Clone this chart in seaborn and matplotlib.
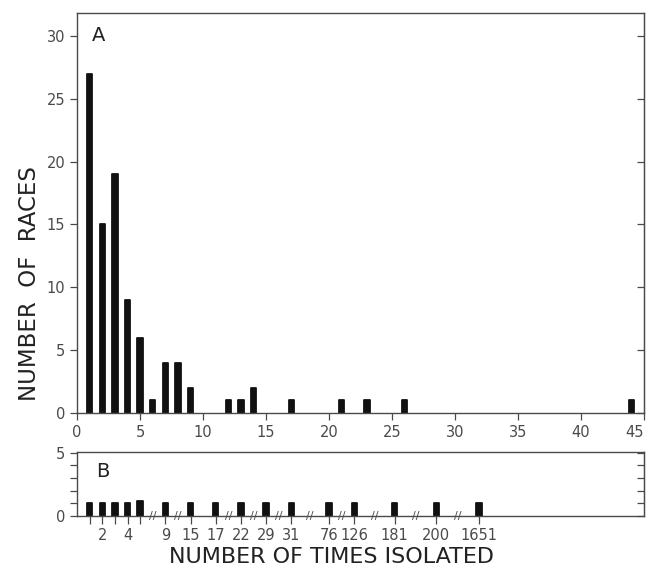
import numpy as np
import pandas as pd
import matplotlib.pyplot as plt
import seaborn as sns

sns.set_style("white")
plt.rcParams['font.family'] = ['DejaVu Sans']

# panel A: number of races isolated n times (n <= 45)
a_times = [1, 2, 3, 4, 5, 6, 7, 8, 9, 12, 13, 14, 17, 21, 23, 26, 44]
a_races = [27, 15, 19, 9, 6, 1, 4, 4, 2, 1, 1, 2, 1, 1, 1, 1, 1]

# panel B: broken axis
b_labels = ["", "2", "", "4", "", "9", "15", "17", "22", "29", "31", "76", "126", "181", "200", "1651"]
b_races = [1, 1, 1, 1, 1.2, 1, 1, 1, 1, 1, 1, 1, 1, 1, 1, 1]

# layout of the broken axis in B (spacing between bars, break marks)
b_step = [1, 1, 1, 1, 2, 2, 2, 2, 2, 2, 3, 2, 3.2, 3.3, 3.4]
b_break = [False, False, False, False, True, True, False, True, True, True, True, True, True, True, True]

GREY = "#4a4a4a"
BAR = "#111111"

fig = plt.figure(figsize=(6.48, 5.72), dpi=100)
axA = fig.add_axes([0.119, 0.278, 0.875, 0.699])
axB = fig.add_axes([0.119, 0.098, 0.875, 0.112])

dfA = pd.DataFrame({"times": a_times, "races": a_races})
sns.barplot(data=dfA, x="times", y="races", native_scale=True, width=0.42,
            color=BAR, saturation=1, ax=axA)

b_pos = np.concatenate([[1.0], 1.0 + np.cumsum(b_step)])
dfB = pd.DataFrame({"pos": b_pos, "races": b_races})
sns.barplot(data=dfB, x="pos", y="races", native_scale=True, width=0.42,
            color=BAR, saturation=1, ax=axB)

for ax in (axA, axB):
    for p in ax.patches:
        p.set_edgecolor(BAR)
        p.set_linewidth(1.3)
        p.set_joinstyle("round")
    for s in ax.spines.values():
        s.set_visible(True)
        s.set_color(GREY)
        s.set_linewidth(1.0)
    ax.set_xlabel("")
    ax.set_ylabel("")
    ax.tick_params(axis="both", colors=GREY, labelcolor=GREY, labelsize=10.5,
                   length=5, width=0.9, direction="out")
    ax.tick_params(axis="y", left=True)
    ax.tick_params(axis="x", bottom=True)
    ax.set_xlim(0, 45)

axA.set_ylim(0, 31.8)
axA.set_yticks(range(0, 31, 5))
axA.set_xticks(range(0, 46, 5))
axA.get_xticklabels()[-1].set_horizontalalignment("right")
axA.text(0.037, 0.945, "A", transform=axA.transAxes, fontsize=14, color="#222222",
         ha="center", va="center")
secA = axA.secondary_yaxis("right")
secA.set_yticks(range(0, 31, 5))
secA.tick_params(direction="in", length=5, width=0.9, colors=GREY, labelright=False)
secA.spines["right"].set_color(GREY)

axB.set_ylim(0, 5.05)
axB.set_yticks(range(0, 6))
axB.set_yticklabels(["0", "", "", "", "", "5"])
axB.set_xticks(b_pos)
axB.set_xticklabels(b_labels)
axB.tick_params(axis="x", length=6, pad=3)
axB.text(0.045, 0.7, "B", transform=axB.transAxes, fontsize=14, color="#222222",
         ha="center", va="center")
secB = axB.secondary_yaxis("right")
secB.set_yticks(range(0, 6))
secB.tick_params(direction="in", length=5, width=0.9, colors=GREY, labelright=False)
secB.spines["right"].set_color(GREY)

for i, brk in enumerate(b_break):
    if brk:
        mid = (b_pos[i] + b_pos[i + 1]) / 2
        axB.text(mid, 0, "//", fontsize=8, color=GREY, ha="center", va="center",
                 zorder=5)

fig.text(0.046, 0.505, "NUMBER  OF  RACES", rotation=90, ha="center", va="center",
         fontsize=16.5, color="#222222")
fig.text(0.511, 0.026, "NUMBER OF TIMES ISOLATED", ha="center", va="center",
         fontsize=16, color="#222222")

fig.savefig("out.png", dpi=100)
